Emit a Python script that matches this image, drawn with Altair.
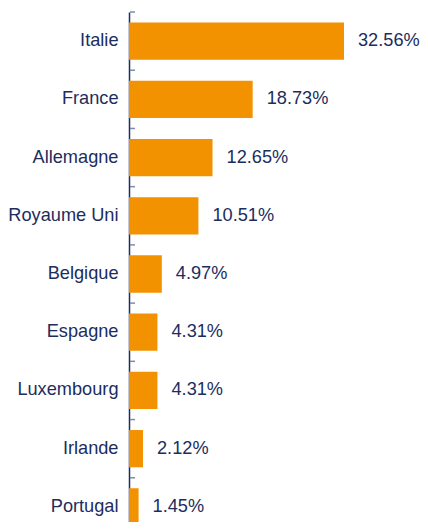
import altair as alt
import pandas as pd

countries = ["Italie", "France", "Allemagne", "Royaume Uni", "Belgique",
             "Espagne", "Luxembourg", "Irlande", "Portugal"]
values = [32.56, 18.73, 12.65, 10.51, 4.97, 4.31, 4.31, 2.12, 1.45]

df = pd.DataFrame({"pays": countries, "part": values})

ORANGE = "#F39200"
NAVY = "#1C2D5E"
FONT = "Liberation Sans"
FS = 18.2
W = 291
H = 510
RANGE = 524
P_INNER = 0.36
STEP = RANGE / (len(countries) - P_INNER + 2 * 0.18)

yscale = alt.Scale(paddingInner=P_INNER, paddingOuter=0.18, range=[0, RANGE])
xscale = alt.Scale(domain=[0, 44.07], nice=False, zero=True)

base = alt.Chart(df)

bars = base.mark_bar(color=ORANGE).encode(
    y=alt.Y("pays:N", sort=countries, scale=yscale,
            axis=alt.Axis(title=None, ticks=False, tickSize=0, labelPadding=11,
                          labelFontSize=FS, labelFont=FONT, labelColor=NAVY,
                          domainColor=NAVY, domainWidth=1.5, grid=False)),
    x=alt.X("part:Q", scale=xscale, axis=None),
)

labels = base.transform_calculate(
    lab="format(datum.part, '.2f') + '%'"
).mark_text(align="left", baseline="middle", dx=14, fontSize=FS, font=FONT,
            color=NAVY).encode(
    y=alt.Y("pays:N", sort=countries),
    x=alt.X("part:Q"),
    text="lab:N",
)

ticks = base.mark_rule(color="#7D8BAE", strokeWidth=1.5,
                       yOffset=-P_INNER * STEP / 2).encode(
    y=alt.Y("pays:N", sort=countries, bandPosition=0),
    x=alt.value(1),
    x2=alt.value(6),
)

chart = alt.layer(bars, ticks, labels).properties(
    width=W, height=H,
    autosize=alt.AutoSizeParams(type="none"),
    padding={"left": 121, "top": 4, "right": 0, "bottom": 0},
).configure_view(stroke=None)

chart.save("out.html", embed_options={"renderer": "svg", "actions": False})
